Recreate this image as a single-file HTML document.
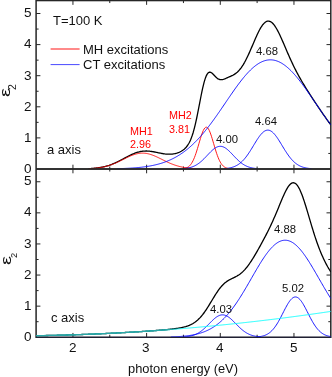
<!DOCTYPE html>
<html><head><meta charset="utf-8"><style>
html,body{margin:0;padding:0;background:#fff}
#c{position:relative;width:332px;height:377px;overflow:hidden;background:#fff;font-family:"Liberation Sans",sans-serif;font-size:13px;color:#111}
.t{position:absolute;will-change:transform;white-space:nowrap;line-height:1;transform-origin:0 0}
</style></head><body><div id="c">
<svg width="332" height="377" viewBox="0 0 332 377" style="position:absolute;left:0;top:0">
<defs><clipPath id="ct"><rect x="36.10" y="1.00" width="294.70" height="167.40"/></clipPath><clipPath id="cb"><rect x="36.10" y="169.00" width="294.70" height="167.65"/></clipPath><clipPath id="cb2"><rect x="36.10" y="169.00" width="294.70" height="169.00"/></clipPath></defs>
<g stroke="#262626" fill="none">
<rect x="36.10" y="0.55" width="294.70" height="336.70" stroke-width="1.5"/>
<line x1="36.10" x2="330.80" y1="169.00" y2="169.00" stroke-width="1.5"/>
<line x1="72.94" y1="0.55" x2="72.94" y2="4.85" stroke-width="1.0"/>
<line x1="72.94" y1="164.70" x2="72.94" y2="173.30" stroke-width="1.0"/>
<line x1="72.94" y1="332.95" x2="72.94" y2="337.25" stroke-width="1.0"/>
<line x1="109.78" y1="0.55" x2="109.78" y2="3.05" stroke-width="1.0"/>
<line x1="109.78" y1="166.50" x2="109.78" y2="171.50" stroke-width="1.0"/>
<line x1="109.78" y1="334.75" x2="109.78" y2="337.25" stroke-width="1.0"/>
<line x1="146.61" y1="0.55" x2="146.61" y2="4.85" stroke-width="1.0"/>
<line x1="146.61" y1="164.70" x2="146.61" y2="173.30" stroke-width="1.0"/>
<line x1="146.61" y1="332.95" x2="146.61" y2="337.25" stroke-width="1.0"/>
<line x1="183.45" y1="0.55" x2="183.45" y2="3.05" stroke-width="1.0"/>
<line x1="183.45" y1="166.50" x2="183.45" y2="171.50" stroke-width="1.0"/>
<line x1="183.45" y1="334.75" x2="183.45" y2="337.25" stroke-width="1.0"/>
<line x1="220.29" y1="0.55" x2="220.29" y2="4.85" stroke-width="1.0"/>
<line x1="220.29" y1="164.70" x2="220.29" y2="173.30" stroke-width="1.0"/>
<line x1="220.29" y1="332.95" x2="220.29" y2="337.25" stroke-width="1.0"/>
<line x1="257.12" y1="0.55" x2="257.12" y2="3.05" stroke-width="1.0"/>
<line x1="257.12" y1="166.50" x2="257.12" y2="171.50" stroke-width="1.0"/>
<line x1="257.12" y1="334.75" x2="257.12" y2="337.25" stroke-width="1.0"/>
<line x1="293.96" y1="0.55" x2="293.96" y2="4.85" stroke-width="1.0"/>
<line x1="293.96" y1="164.70" x2="293.96" y2="173.30" stroke-width="1.0"/>
<line x1="293.96" y1="332.95" x2="293.96" y2="337.25" stroke-width="1.0"/>
<line x1="36.10" y1="153.45" x2="38.60" y2="153.45" stroke-width="1.0"/>
<line x1="328.30" y1="153.45" x2="330.80" y2="153.45" stroke-width="1.0"/>
<line x1="36.10" y1="321.70" x2="38.60" y2="321.70" stroke-width="1.0"/>
<line x1="328.30" y1="321.70" x2="330.80" y2="321.70" stroke-width="1.0"/>
<line x1="36.10" y1="137.90" x2="40.40" y2="137.90" stroke-width="1.0"/>
<line x1="326.50" y1="137.90" x2="330.80" y2="137.90" stroke-width="1.0"/>
<line x1="36.10" y1="306.15" x2="40.40" y2="306.15" stroke-width="1.0"/>
<line x1="326.50" y1="306.15" x2="330.80" y2="306.15" stroke-width="1.0"/>
<line x1="36.10" y1="122.35" x2="38.60" y2="122.35" stroke-width="1.0"/>
<line x1="328.30" y1="122.35" x2="330.80" y2="122.35" stroke-width="1.0"/>
<line x1="36.10" y1="290.60" x2="38.60" y2="290.60" stroke-width="1.0"/>
<line x1="328.30" y1="290.60" x2="330.80" y2="290.60" stroke-width="1.0"/>
<line x1="36.10" y1="106.80" x2="40.40" y2="106.80" stroke-width="1.0"/>
<line x1="326.50" y1="106.80" x2="330.80" y2="106.80" stroke-width="1.0"/>
<line x1="36.10" y1="275.05" x2="40.40" y2="275.05" stroke-width="1.0"/>
<line x1="326.50" y1="275.05" x2="330.80" y2="275.05" stroke-width="1.0"/>
<line x1="36.10" y1="91.25" x2="38.60" y2="91.25" stroke-width="1.0"/>
<line x1="328.30" y1="91.25" x2="330.80" y2="91.25" stroke-width="1.0"/>
<line x1="36.10" y1="259.50" x2="38.60" y2="259.50" stroke-width="1.0"/>
<line x1="328.30" y1="259.50" x2="330.80" y2="259.50" stroke-width="1.0"/>
<line x1="36.10" y1="75.70" x2="40.40" y2="75.70" stroke-width="1.0"/>
<line x1="326.50" y1="75.70" x2="330.80" y2="75.70" stroke-width="1.0"/>
<line x1="36.10" y1="243.95" x2="40.40" y2="243.95" stroke-width="1.0"/>
<line x1="326.50" y1="243.95" x2="330.80" y2="243.95" stroke-width="1.0"/>
<line x1="36.10" y1="60.15" x2="38.60" y2="60.15" stroke-width="1.0"/>
<line x1="328.30" y1="60.15" x2="330.80" y2="60.15" stroke-width="1.0"/>
<line x1="36.10" y1="228.40" x2="38.60" y2="228.40" stroke-width="1.0"/>
<line x1="328.30" y1="228.40" x2="330.80" y2="228.40" stroke-width="1.0"/>
<line x1="36.10" y1="44.60" x2="40.40" y2="44.60" stroke-width="1.0"/>
<line x1="326.50" y1="44.60" x2="330.80" y2="44.60" stroke-width="1.0"/>
<line x1="36.10" y1="212.85" x2="40.40" y2="212.85" stroke-width="1.0"/>
<line x1="326.50" y1="212.85" x2="330.80" y2="212.85" stroke-width="1.0"/>
<line x1="36.10" y1="29.05" x2="38.60" y2="29.05" stroke-width="1.0"/>
<line x1="328.30" y1="29.05" x2="330.80" y2="29.05" stroke-width="1.0"/>
<line x1="36.10" y1="197.30" x2="38.60" y2="197.30" stroke-width="1.0"/>
<line x1="328.30" y1="197.30" x2="330.80" y2="197.30" stroke-width="1.0"/>
<line x1="36.10" y1="13.50" x2="40.40" y2="13.50" stroke-width="1.0"/>
<line x1="326.50" y1="13.50" x2="330.80" y2="13.50" stroke-width="1.0"/>
<line x1="36.10" y1="181.75" x2="40.40" y2="181.75" stroke-width="1.0"/>
<line x1="326.50" y1="181.75" x2="330.80" y2="181.75" stroke-width="1.0"/>
</g>
<line x1="36.10" x2="330.80" y1="337.25" y2="337.25" stroke="rgba(0,0,120,0.15)" stroke-width="1.5"/>
<g fill="none" stroke-linejoin="round" clip-path="url(#ct)">
<path d="M88.41,168.66 L89.15,168.62 L89.88,168.58 L90.62,168.54 L91.36,168.49 L92.09,168.44 L92.83,168.38 L93.57,168.32 L94.30,168.25 L95.04,168.18 L95.78,168.10 L96.51,168.02 L97.25,167.93 L97.99,167.83 L98.72,167.72 L99.46,167.61 L100.20,167.49 L100.93,167.36 L101.67,167.22 L102.41,167.08 L103.14,166.92 L103.88,166.76 L104.62,166.58 L105.35,166.40 L106.09,166.20 L106.83,166.00 L107.56,165.78 L108.30,165.55 L109.04,165.32 L109.78,165.07 L110.51,164.81 L111.25,164.54 L111.99,164.26 L112.72,163.97 L113.46,163.66 L114.20,163.35 L114.93,163.03 L115.67,162.70 L116.41,162.36 L117.14,162.01 L117.88,161.65 L118.62,161.29 L119.35,160.92 L120.09,160.54 L120.83,160.16 L121.56,159.77 L122.30,159.38 L123.04,158.98 L123.77,158.59 L124.51,158.19 L125.25,157.80 L125.98,157.41 L126.72,157.01 L127.46,156.63 L128.19,156.24 L128.93,155.87 L129.67,155.50 L130.40,155.14 L131.14,154.79 L131.88,154.45 L132.61,154.12 L133.35,153.80 L134.09,153.50 L134.82,153.21 L135.56,152.94 L136.30,152.68 L137.03,152.44 L137.77,152.22 L138.51,152.01 L139.25,151.83 L139.98,151.66 L140.72,151.51 L141.46,151.38 L142.19,151.27 L142.93,151.19 L143.67,151.12 L144.40,151.06 L145.14,151.03 L145.88,151.02 L146.61,151.02 L147.35,151.05 L148.09,151.08 L148.82,151.14 L149.56,151.21 L150.30,151.29 L151.03,151.39 L151.77,151.49 L152.51,151.61 L153.24,151.74 L153.98,151.87 L154.72,152.01 L155.45,152.16 L156.19,152.31 L156.93,152.47 L157.66,152.62 L158.40,152.78 L159.14,152.93 L159.87,153.08 L160.61,153.23 L161.35,153.37 L162.08,153.50 L162.82,153.63 L163.56,153.75 L164.29,153.85 L165.03,153.95 L165.77,154.03 L166.50,154.10 L167.24,154.15 L167.98,154.19 L168.71,154.21 L169.45,154.21 L170.19,154.20 L170.93,154.17 L171.66,154.11 L172.40,154.04 L173.14,153.94 L173.87,153.83 L174.61,153.69 L175.35,153.53 L176.08,153.34 L176.82,153.13 L177.56,152.89 L178.29,152.62 L179.03,152.33 L179.77,152.00 L180.50,151.64 L181.24,151.25 L181.98,150.81 L182.71,150.32 L183.45,149.78 L184.19,149.19 L184.92,148.52 L185.66,147.78 L186.40,146.95 L187.13,146.01 L187.87,144.96 L188.61,143.77 L189.34,142.44 L190.08,140.94 L190.82,139.25 L191.55,137.37 L192.29,135.28 L193.03,132.96 L193.76,130.42 L194.50,127.64 L195.24,124.64 L195.97,121.42 L196.71,118.01 L197.45,114.42 L198.19,110.71 L198.92,106.91 L199.66,103.07 L200.40,99.25 L201.13,95.50 L201.87,91.89 L202.61,88.47 L203.34,85.29 L204.08,82.41 L204.82,79.86 L205.55,77.66 L206.29,75.84 L207.03,74.40 L207.76,73.33 L208.50,72.61 L209.24,72.23 L209.97,72.15 L210.71,72.32 L211.45,72.71 L212.18,73.27 L212.92,73.95 L213.66,74.72 L214.39,75.51 L215.13,76.31 L215.87,77.06 L216.60,77.75 L217.34,78.35 L218.08,78.84 L218.81,79.23 L219.55,79.50 L220.29,79.65 L221.02,79.70 L221.76,79.66 L222.50,79.54 L223.23,79.36 L223.97,79.12 L224.71,78.85 L225.44,78.55 L226.18,78.24 L226.92,77.92 L227.65,77.59 L228.39,77.27 L229.13,76.95 L229.87,76.62 L230.60,76.30 L231.34,75.96 L232.08,75.60 L232.81,75.23 L233.55,74.82 L234.29,74.39 L235.02,73.91 L235.76,73.38 L236.50,72.81 L237.23,72.18 L237.97,71.49 L238.71,70.73 L239.44,69.91 L240.18,69.03 L240.92,68.08 L241.65,67.05 L242.39,65.97 L243.13,64.81 L243.86,63.58 L244.60,62.30 L245.34,60.94 L246.07,59.53 L246.81,58.06 L247.55,56.54 L248.28,54.98 L249.02,53.37 L249.76,51.72 L250.49,50.04 L251.23,48.34 L251.97,46.62 L252.70,44.89 L253.44,43.16 L254.18,41.44 L254.91,39.73 L255.65,38.05 L256.39,36.40 L257.12,34.79 L257.86,33.23 L258.60,31.74 L259.34,30.31 L260.07,28.95 L260.81,27.69 L261.55,26.51 L262.28,25.44 L263.02,24.47 L263.76,23.62 L264.49,22.88 L265.23,22.26 L265.97,21.77 L266.70,21.41 L267.44,21.18 L268.18,21.09 L268.91,21.12 L269.65,21.29 L270.39,21.59 L271.12,22.01 L271.86,22.56 L272.60,23.23 L273.33,24.02 L274.07,24.92 L274.81,25.92 L275.54,27.03 L276.28,28.22 L277.02,29.50 L277.75,30.86 L278.49,32.28 L279.23,33.77 L279.96,35.31 L280.70,36.90 L281.44,38.53 L282.17,40.20 L282.91,41.88 L283.65,43.59 L284.38,45.30 L285.12,47.03 L285.86,48.75 L286.60,50.47 L287.33,52.18 L288.07,53.88 L288.81,55.57 L289.54,57.23 L290.28,58.87 L291.02,60.49 L291.75,62.09 L292.49,63.65 L293.23,65.20 L293.96,66.71 L294.70,68.20 L295.44,69.66 L296.17,71.09 L296.91,72.50 L297.65,73.88 L298.38,75.24 L299.12,76.58 L299.86,77.89 L300.59,79.19 L301.33,80.46 L302.07,81.72 L302.80,82.96 L303.54,84.19 L304.28,85.40 L305.01,86.61 L305.75,87.80 L306.49,88.98 L307.22,90.15 L307.96,91.32 L308.70,92.47 L309.43,93.62 L310.17,94.77 L310.91,95.91 L311.64,97.04 L312.38,98.17 L313.12,99.29 L313.85,100.42 L314.59,101.53 L315.33,102.64 L316.07,103.75 L316.80,104.86 L317.54,105.96 L318.28,107.05 L319.01,108.15 L319.75,109.23 L320.49,110.32 L321.22,111.39 L321.96,112.46 L322.70,113.53 L323.43,114.59 L324.17,115.64 L324.91,116.69 L325.64,117.73 L326.38,118.76 L327.12,119.78 L327.85,120.80 L328.59,121.80 L329.33,122.80 L330.06,123.79 L330.80,124.77" stroke="#000" stroke-width="1.3"/>
<path d="M89.15,168.66 L89.88,168.62 L90.62,168.58 L91.36,168.53 L92.09,168.48 L92.83,168.43 L93.57,168.37 L94.30,168.30 L95.04,168.23 L95.78,168.16 L96.51,168.08 L97.25,167.99 L97.99,167.90 L98.72,167.80 L99.46,167.69 L100.20,167.57 L100.93,167.45 L101.67,167.32 L102.41,167.18 L103.14,167.03 L103.88,166.87 L104.62,166.70 L105.35,166.52 L106.09,166.34 L106.83,166.14 L107.56,165.93 L108.30,165.72 L109.04,165.49 L109.78,165.25 L110.51,165.00 L111.25,164.74 L111.99,164.48 L112.72,164.20 L113.46,163.91 L114.20,163.61 L114.93,163.31 L115.67,162.99 L116.41,162.67 L117.14,162.33 L117.88,162.00 L118.62,161.65 L119.35,161.30 L120.09,160.95 L120.83,160.59 L121.56,160.22 L122.30,159.86 L123.04,159.49 L123.77,159.12 L124.51,158.76 L125.25,158.39 L125.98,158.03 L126.72,157.67 L127.46,157.32 L128.19,156.98 L128.93,156.64 L129.67,156.31 L130.40,155.99 L131.14,155.69 L131.88,155.39 L132.61,155.11 L133.35,154.85 L134.09,154.60 L134.82,154.36 L135.56,154.15 L136.30,153.95 L137.03,153.78 L137.77,153.62 L138.51,153.48 L139.25,153.37 L139.98,153.28 L140.72,153.21 L141.46,153.16 L142.19,153.14 L142.93,153.14 L143.67,153.16 L144.40,153.21 L145.14,153.28 L145.88,153.37 L146.61,153.48 L147.35,153.62 L148.09,153.78 L148.82,153.95 L149.56,154.15 L150.30,154.36 L151.03,154.60 L151.77,154.85 L152.51,155.11 L153.24,155.39 L153.98,155.69 L154.72,155.99 L155.45,156.31 L156.19,156.64 L156.93,156.98 L157.66,157.32 L158.40,157.67 L159.14,158.03 L159.87,158.39 L160.61,158.76 L161.35,159.12 L162.08,159.49 L162.82,159.86 L163.56,160.22 L164.29,160.59 L165.03,160.95 L165.77,161.30 L166.50,161.65 L167.24,162.00 L167.98,162.33 L168.71,162.67 L169.45,162.99 L170.19,163.31 L170.93,163.61 L171.66,163.91 L172.40,164.20 L173.14,164.48 L173.87,164.74 L174.61,165.00 L175.35,165.25 L176.08,165.49 L176.82,165.72 L177.56,165.93 L178.29,166.14 L179.03,166.34 L179.77,166.52 L180.50,166.70 L181.24,166.87 L181.98,167.03 L182.71,167.18 L183.45,167.32 L184.19,167.45 L184.92,167.57 L185.66,167.69 L186.40,167.80 L187.13,167.90 L187.87,167.99 L188.61,168.08 L189.34,168.16 L190.08,168.23 L190.82,168.30 L191.55,168.37 L192.29,168.43 L193.03,168.48 L193.76,168.53 L194.50,168.58 L195.24,168.62 L195.97,168.66" stroke="#ff0000" stroke-width="0.9"/>
<path d="M183.45,168.66 L184.19,168.54 L184.92,168.38 L185.66,168.17 L186.40,167.91 L187.13,167.58 L187.87,167.16 L188.61,166.65 L189.34,166.03 L190.08,165.28 L190.82,164.39 L191.55,163.34 L192.29,162.12 L193.03,160.72 L193.76,159.14 L194.50,157.37 L195.24,155.42 L195.97,153.30 L196.71,151.03 L197.45,148.64 L198.19,146.16 L198.92,143.63 L199.66,141.10 L200.40,138.63 L201.13,136.26 L201.87,134.06 L202.61,132.09 L203.34,130.39 L204.08,129.01 L204.82,128.00 L205.55,127.38 L206.29,127.17 L207.03,127.38 L207.76,128.00 L208.50,129.01 L209.24,130.39 L209.97,132.09 L210.71,134.06 L211.45,136.26 L212.18,138.63 L212.92,141.10 L213.66,143.63 L214.39,146.16 L215.13,148.64 L215.87,151.03 L216.60,153.30 L217.34,155.42 L218.08,157.37 L218.81,159.14 L219.55,160.72 L220.29,162.12 L221.02,163.34 L221.76,164.39 L222.50,165.28 L223.23,166.03 L223.97,166.65 L224.71,167.16 L225.44,167.58 L226.18,167.91 L226.92,168.17 L227.65,168.38 L228.39,168.54 L229.13,168.66" stroke="#ff0000" stroke-width="0.9"/>
<path d="M182.71,168.68 L183.45,168.62 L184.19,168.55 L184.92,168.47 L185.66,168.38 L186.40,168.28 L187.13,168.17 L187.87,168.04 L188.61,167.89 L189.34,167.73 L190.08,167.54 L190.82,167.33 L191.55,167.10 L192.29,166.85 L193.03,166.57 L193.76,166.26 L194.50,165.93 L195.24,165.56 L195.97,165.16 L196.71,164.73 L197.45,164.27 L198.19,163.78 L198.92,163.25 L199.66,162.69 L200.40,162.09 L201.13,161.47 L201.87,160.82 L202.61,160.14 L203.34,159.43 L204.08,158.70 L204.82,157.95 L205.55,157.18 L206.29,156.41 L207.03,155.62 L207.76,154.84 L208.50,154.05 L209.24,153.28 L209.97,152.51 L210.71,151.77 L211.45,151.05 L212.18,150.37 L212.92,149.72 L213.66,149.11 L214.39,148.55 L215.13,148.04 L215.87,147.59 L216.60,147.20 L217.34,146.88 L218.08,146.63 L218.81,146.44 L219.55,146.33 L220.29,146.30 L221.02,146.33 L221.76,146.44 L222.50,146.63 L223.23,146.88 L223.97,147.20 L224.71,147.59 L225.44,148.04 L226.18,148.55 L226.92,149.11 L227.65,149.72 L228.39,150.37 L229.13,151.05 L229.87,151.77 L230.60,152.51 L231.34,153.28 L232.08,154.05 L232.81,154.84 L233.55,155.62 L234.29,156.41 L235.02,157.18 L235.76,157.95 L236.50,158.70 L237.23,159.43 L237.97,160.14 L238.71,160.82 L239.44,161.47 L240.18,162.09 L240.92,162.69 L241.65,163.25 L242.39,163.78 L243.13,164.27 L243.86,164.73 L244.60,165.16 L245.34,165.56 L246.07,165.93 L246.81,166.26 L247.55,166.57 L248.28,166.85 L249.02,167.10 L249.76,167.33 L250.49,167.54 L251.23,167.73 L251.97,167.89 L252.70,168.04 L253.44,168.17 L254.18,168.28 L254.91,168.38 L255.65,168.47 L256.39,168.55 L257.12,168.62 L257.86,168.68" stroke="#0000ff" stroke-width="0.9"/>
<path d="M223.97,168.66 L224.71,168.61 L225.44,168.54 L226.18,168.46 L226.92,168.38 L227.65,168.28 L228.39,168.17 L229.13,168.04 L229.87,167.89 L230.60,167.73 L231.34,167.55 L232.08,167.35 L232.81,167.12 L233.55,166.87 L234.29,166.59 L235.02,166.28 L235.76,165.93 L236.50,165.56 L237.23,165.15 L237.97,164.70 L238.71,164.21 L239.44,163.68 L240.18,163.11 L240.92,162.50 L241.65,161.84 L242.39,161.13 L243.13,160.38 L243.86,159.58 L244.60,158.74 L245.34,157.85 L246.07,156.91 L246.81,155.93 L247.55,154.91 L248.28,153.85 L249.02,152.76 L249.76,151.63 L250.49,150.48 L251.23,149.30 L251.97,148.10 L252.70,146.89 L253.44,145.67 L254.18,144.44 L254.91,143.23 L255.65,142.03 L256.39,140.84 L257.12,139.68 L257.86,138.56 L258.60,137.48 L259.34,136.45 L260.07,135.47 L260.81,134.56 L261.55,133.72 L262.28,132.95 L263.02,132.27 L263.76,131.67 L264.49,131.17 L265.23,130.76 L265.97,130.45 L266.70,130.24 L267.44,130.14 L268.18,130.14 L268.91,130.24 L269.65,130.45 L270.39,130.76 L271.12,131.17 L271.86,131.67 L272.60,132.27 L273.33,132.95 L274.07,133.72 L274.81,134.56 L275.54,135.47 L276.28,136.45 L277.02,137.48 L277.75,138.56 L278.49,139.68 L279.23,140.84 L279.96,142.03 L280.70,143.23 L281.44,144.44 L282.17,145.67 L282.91,146.89 L283.65,148.10 L284.38,149.30 L285.12,150.48 L285.86,151.63 L286.60,152.76 L287.33,153.85 L288.07,154.91 L288.81,155.93 L289.54,156.91 L290.28,157.85 L291.02,158.74 L291.75,159.58 L292.49,160.38 L293.23,161.13 L293.96,161.84 L294.70,162.50 L295.44,163.11 L296.17,163.68 L296.91,164.21 L297.65,164.70 L298.38,165.15 L299.12,165.56 L299.86,165.93 L300.59,166.28 L301.33,166.59 L302.07,166.87 L302.80,167.12 L303.54,167.35 L304.28,167.55 L305.01,167.73 L305.75,167.89 L306.49,168.04 L307.22,168.17 L307.96,168.28 L308.70,168.38 L309.43,168.46 L310.17,168.54 L310.91,168.61 L311.64,168.66" stroke="#0000ff" stroke-width="0.9"/>
<path d="M117.14,168.67 L117.88,168.66 L118.62,168.64 L119.35,168.61 L120.09,168.59 L120.83,168.57 L121.56,168.55 L122.30,168.52 L123.04,168.49 L123.77,168.47 L124.51,168.44 L125.25,168.41 L125.98,168.37 L126.72,168.34 L127.46,168.31 L128.19,168.27 L128.93,168.23 L129.67,168.19 L130.40,168.15 L131.14,168.10 L131.88,168.05 L132.61,168.01 L133.35,167.95 L134.09,167.90 L134.82,167.85 L135.56,167.79 L136.30,167.73 L137.03,167.66 L137.77,167.60 L138.51,167.53 L139.25,167.45 L139.98,167.38 L140.72,167.30 L141.46,167.22 L142.19,167.13 L142.93,167.04 L143.67,166.95 L144.40,166.85 L145.14,166.75 L145.88,166.65 L146.61,166.54 L147.35,166.43 L148.09,166.31 L148.82,166.19 L149.56,166.06 L150.30,165.93 L151.03,165.79 L151.77,165.65 L152.51,165.50 L153.24,165.35 L153.98,165.19 L154.72,165.02 L155.45,164.85 L156.19,164.67 L156.93,164.49 L157.66,164.30 L158.40,164.10 L159.14,163.90 L159.87,163.69 L160.61,163.47 L161.35,163.25 L162.08,163.02 L162.82,162.78 L163.56,162.53 L164.29,162.27 L165.03,162.01 L165.77,161.73 L166.50,161.45 L167.24,161.16 L167.98,160.86 L168.71,160.55 L169.45,160.23 L170.19,159.91 L170.93,159.57 L171.66,159.22 L172.40,158.87 L173.14,158.50 L173.87,158.12 L174.61,157.73 L175.35,157.33 L176.08,156.92 L176.82,156.50 L177.56,156.07 L178.29,155.63 L179.03,155.17 L179.77,154.71 L180.50,154.23 L181.24,153.74 L181.98,153.23 L182.71,152.72 L183.45,152.19 L184.19,151.65 L184.92,151.10 L185.66,150.54 L186.40,149.96 L187.13,149.37 L187.87,148.77 L188.61,148.15 L189.34,147.52 L190.08,146.88 L190.82,146.23 L191.55,145.56 L192.29,144.88 L193.03,144.19 L193.76,143.48 L194.50,142.76 L195.24,142.03 L195.97,141.28 L196.71,140.52 L197.45,139.75 L198.19,138.97 L198.92,138.17 L199.66,137.36 L200.40,136.54 L201.13,135.70 L201.87,134.85 L202.61,133.99 L203.34,133.12 L204.08,132.24 L204.82,131.35 L205.55,130.44 L206.29,129.52 L207.03,128.59 L207.76,127.65 L208.50,126.70 L209.24,125.74 L209.97,124.77 L210.71,123.80 L211.45,122.81 L212.18,121.81 L212.92,120.80 L213.66,119.79 L214.39,118.77 L215.13,117.74 L215.87,116.70 L216.60,115.66 L217.34,114.61 L218.08,113.55 L218.81,112.49 L219.55,111.43 L220.29,110.36 L221.02,109.28 L221.76,108.21 L222.50,107.13 L223.23,106.04 L223.97,104.96 L224.71,103.88 L225.44,102.79 L226.18,101.71 L226.92,100.62 L227.65,99.54 L228.39,98.46 L229.13,97.38 L229.87,96.30 L230.60,95.23 L231.34,94.16 L232.08,93.10 L232.81,92.04 L233.55,90.99 L234.29,89.94 L235.02,88.90 L235.76,87.87 L236.50,86.85 L237.23,85.84 L237.97,84.84 L238.71,83.85 L239.44,82.88 L240.18,81.91 L240.92,80.96 L241.65,80.02 L242.39,79.09 L243.13,78.18 L243.86,77.29 L244.60,76.41 L245.34,75.54 L246.07,74.70 L246.81,73.87 L247.55,73.06 L248.28,72.27 L249.02,71.50 L249.76,70.75 L250.49,70.03 L251.23,69.32 L251.97,68.63 L252.70,67.97 L253.44,67.33 L254.18,66.71 L254.91,66.12 L255.65,65.55 L256.39,65.01 L257.12,64.49 L257.86,64.00 L258.60,63.53 L259.34,63.09 L260.07,62.68 L260.81,62.29 L261.55,61.93 L262.28,61.60 L263.02,61.30 L263.76,61.02 L264.49,60.77 L265.23,60.56 L265.97,60.37 L266.70,60.21 L267.44,60.07 L268.18,59.97 L268.91,59.90 L269.65,59.85 L270.39,59.84 L271.12,59.85 L271.86,59.90 L272.60,59.97 L273.33,60.07 L274.07,60.21 L274.81,60.37 L275.54,60.56 L276.28,60.77 L277.02,61.02 L277.75,61.30 L278.49,61.60 L279.23,61.93 L279.96,62.29 L280.70,62.68 L281.44,63.09 L282.17,63.53 L282.91,64.00 L283.65,64.49 L284.38,65.01 L285.12,65.55 L285.86,66.12 L286.60,66.71 L287.33,67.33 L288.07,67.97 L288.81,68.63 L289.54,69.32 L290.28,70.03 L291.02,70.75 L291.75,71.50 L292.49,72.27 L293.23,73.06 L293.96,73.87 L294.70,74.70 L295.44,75.54 L296.17,76.41 L296.91,77.29 L297.65,78.18 L298.38,79.09 L299.12,80.02 L299.86,80.96 L300.59,81.91 L301.33,82.88 L302.07,83.85 L302.80,84.84 L303.54,85.84 L304.28,86.85 L305.01,87.87 L305.75,88.90 L306.49,89.94 L307.22,90.99 L307.96,92.04 L308.70,93.10 L309.43,94.16 L310.17,95.23 L310.91,96.30 L311.64,97.38 L312.38,98.46 L313.12,99.54 L313.85,100.62 L314.59,101.71 L315.33,102.79 L316.07,103.88 L316.80,104.96 L317.54,106.04 L318.28,107.13 L319.01,108.21 L319.75,109.28 L320.49,110.36 L321.22,111.43 L321.96,112.49 L322.70,113.55 L323.43,114.61 L324.17,115.66 L324.91,116.70 L325.64,117.74 L326.38,118.77 L327.12,119.79 L327.85,120.80 L328.59,121.81 L329.33,122.81 L330.06,123.80 L330.80,124.77" stroke="#0000ff" stroke-width="0.9"/>
</g>
<line x1="36.10" x2="330.80" y1="169.00" y2="169.00" stroke="#262626" stroke-width="1.5"/>
<g fill="none" stroke-linejoin="round" clip-path="url(#cb2)">
<path d="M36.10,335.69 L36.84,335.68 L37.57,335.67 L38.31,335.66 L39.05,335.65 L39.78,335.64 L40.52,335.62 L41.26,335.61 L41.99,335.60 L42.73,335.58 L43.47,335.57 L44.20,335.56 L44.94,335.54 L45.68,335.53 L46.41,335.51 L47.15,335.50 L47.89,335.48 L48.62,335.47 L49.36,335.45 L50.10,335.44 L50.83,335.42 L51.57,335.40 L52.31,335.39 L53.05,335.37 L53.78,335.35 L54.52,335.33 L55.26,335.32 L55.99,335.30 L56.73,335.28 L57.47,335.26 L58.20,335.24 L58.94,335.23 L59.68,335.21 L60.41,335.19 L61.15,335.17 L61.89,335.15 L62.62,335.13 L63.36,335.11 L64.10,335.09 L64.83,335.07 L65.57,335.04 L66.31,335.02 L67.04,335.00 L67.78,334.98 L68.52,334.96 L69.25,334.94 L69.99,334.91 L70.73,334.89 L71.46,334.87 L72.20,334.84 L72.94,334.82 L73.67,334.80 L74.41,334.77 L75.15,334.75 L75.88,334.72 L76.62,334.70 L77.36,334.67 L78.09,334.65 L78.83,334.62 L79.57,334.60 L80.31,334.57 L81.04,334.55 L81.78,334.52 L82.52,334.49 L83.25,334.46 L83.99,334.44 L84.73,334.41 L85.46,334.38 L86.20,334.35 L86.94,334.33 L87.67,334.30 L88.41,334.27 L89.15,334.24 L89.88,334.21 L90.62,334.18 L91.36,334.15 L92.09,334.12 L92.83,334.09 L93.57,334.06 L94.30,334.03 L95.04,334.00 L95.78,333.97 L96.51,333.94 L97.25,333.90 L97.99,333.87 L98.72,333.84 L99.46,333.81 L100.20,333.78 L100.93,333.74 L101.67,333.71 L102.41,333.68 L103.14,333.64 L103.88,333.61 L104.62,333.57 L105.35,333.54 L106.09,333.51 L106.83,333.47 L107.56,333.44 L108.30,333.40 L109.04,333.36 L109.78,333.33 L110.51,333.29 L111.25,333.26 L111.99,333.22 L112.72,333.18 L113.46,333.14 L114.20,333.11 L114.93,333.07 L115.67,333.03 L116.41,332.99 L117.14,332.96 L117.88,332.92 L118.62,332.88 L119.35,332.84 L120.09,332.80 L120.83,332.76 L121.56,332.72 L122.30,332.68 L123.04,332.64 L123.77,332.60 L124.51,332.56 L125.25,332.52 L125.98,332.47 L126.72,332.43 L127.46,332.39 L128.19,332.35 L128.93,332.31 L129.67,332.26 L130.40,332.22 L131.14,332.18 L131.88,332.13 L132.61,332.09 L133.35,332.05 L134.09,332.00 L134.82,331.96 L135.56,331.91 L136.30,331.87 L137.03,331.82 L137.77,331.77 L138.51,331.73 L139.25,331.68 L139.98,331.63 L140.72,331.59 L141.46,331.54 L142.19,331.49 L142.93,331.44 L143.67,331.40 L144.40,331.35 L145.14,331.30 L145.88,331.25 L146.61,331.20 L147.35,331.15 L148.09,331.10 L148.82,331.04 L149.56,330.99 L150.30,330.94 L151.03,330.89 L151.77,330.83 L152.51,330.78 L153.24,330.73 L153.98,330.67 L154.72,330.62 L155.45,330.56 L156.19,330.50 L156.93,330.45 L157.66,330.39 L158.40,330.33 L159.14,330.27 L159.87,330.21 L160.61,330.15 L161.35,330.09 L162.08,330.02 L162.82,329.96 L163.56,329.89 L164.29,329.83 L165.03,329.76 L165.77,329.69 L166.50,329.62 L167.24,329.55 L167.98,329.47 L168.71,329.40 L169.45,329.32 L170.19,329.24 L170.93,329.16 L171.66,329.08 L172.40,328.99 L173.14,328.90 L173.87,328.81 L174.61,328.72 L175.35,328.62 L176.08,328.51 L176.82,328.41 L177.56,328.30 L178.29,328.18 L179.03,328.06 L179.77,327.93 L180.50,327.79 L181.24,327.65 L181.98,327.50 L182.71,327.33 L183.45,327.16 L184.19,326.98 L184.92,326.78 L185.66,326.58 L186.40,326.35 L187.13,326.11 L187.87,325.86 L188.61,325.58 L189.34,325.29 L190.08,324.97 L190.82,324.63 L191.55,324.26 L192.29,323.87 L193.03,323.45 L193.76,322.99 L194.50,322.51 L195.24,321.99 L195.97,321.43 L196.71,320.84 L197.45,320.21 L198.19,319.55 L198.92,318.84 L199.66,318.09 L200.40,317.30 L201.13,316.47 L201.87,315.59 L202.61,314.68 L203.34,313.73 L204.08,312.74 L204.82,311.71 L205.55,310.64 L206.29,309.55 L207.03,308.42 L207.76,307.27 L208.50,306.09 L209.24,304.90 L209.97,303.69 L210.71,302.46 L211.45,301.24 L212.18,300.01 L212.92,298.78 L213.66,297.56 L214.39,296.36 L215.13,295.17 L215.87,294.01 L216.60,292.88 L217.34,291.77 L218.08,290.71 L218.81,289.68 L219.55,288.69 L220.29,287.75 L221.02,286.85 L221.76,286.00 L222.50,285.20 L223.23,284.45 L223.97,283.74 L224.71,283.09 L225.44,282.47 L226.18,281.91 L226.92,281.38 L227.65,280.89 L228.39,280.43 L229.13,280.00 L229.87,279.60 L230.60,279.22 L231.34,278.85 L232.08,278.49 L232.81,278.14 L233.55,277.79 L234.29,277.44 L235.02,277.07 L235.76,276.70 L236.50,276.30 L237.23,275.88 L237.97,275.43 L238.71,274.96 L239.44,274.45 L240.18,273.91 L240.92,273.33 L241.65,272.71 L242.39,272.05 L243.13,271.35 L243.86,270.61 L244.60,269.83 L245.34,269.01 L246.07,268.14 L246.81,267.24 L247.55,266.29 L248.28,265.31 L249.02,264.30 L249.76,263.25 L250.49,262.17 L251.23,261.06 L251.97,259.92 L252.70,258.75 L253.44,257.57 L254.18,256.36 L254.91,255.13 L255.65,253.88 L256.39,252.61 L257.12,251.34 L257.86,250.04 L258.60,248.74 L259.34,247.42 L260.07,246.10 L260.81,244.76 L261.55,243.41 L262.28,242.05 L263.02,240.68 L263.76,239.30 L264.49,237.91 L265.23,236.50 L265.97,235.08 L266.70,233.64 L267.44,232.19 L268.18,230.72 L268.91,229.22 L269.65,227.71 L270.39,226.17 L271.12,224.61 L271.86,223.02 L272.60,221.40 L273.33,219.76 L274.07,218.10 L274.81,216.40 L275.54,214.69 L276.28,212.95 L277.02,211.19 L277.75,209.42 L278.49,207.64 L279.23,205.85 L279.96,204.06 L280.70,202.28 L281.44,200.51 L282.17,198.77 L282.91,197.07 L283.65,195.40 L284.38,193.79 L285.12,192.25 L285.86,190.78 L286.60,189.40 L287.33,188.12 L288.07,186.96 L288.81,185.91 L289.54,185.00 L290.28,184.23 L291.02,183.62 L291.75,183.16 L292.49,182.88 L293.23,182.76 L293.96,182.83 L294.70,183.08 L295.44,183.50 L296.17,184.11 L296.91,184.91 L297.65,185.88 L298.38,187.02 L299.12,188.33 L299.86,189.80 L300.59,191.41 L301.33,193.17 L302.07,195.06 L302.80,197.07 L303.54,199.19 L304.28,201.39 L305.01,203.68 L305.75,206.04 L306.49,208.45 L307.22,210.90 L307.96,213.38 L308.70,215.88 L309.43,218.39 L310.17,220.89 L310.91,223.38 L311.64,225.85 L312.38,228.28 L313.12,230.68 L313.85,233.03 L314.59,235.34 L315.33,237.59 L316.07,239.79 L316.80,241.93 L317.54,244.01 L318.28,246.02 L319.01,247.98 L319.75,249.87 L320.49,251.70 L321.22,253.47 L321.96,255.19 L322.70,256.84 L323.43,258.45 L324.17,260.00 L324.91,261.49 L325.64,262.94 L326.38,264.35 L327.12,265.71 L327.85,267.03 L328.59,268.30 L329.33,269.54 L330.06,270.75 L330.80,271.92" stroke="#000" stroke-width="1.3"/>
</g>
<g fill="none" stroke-linejoin="round" clip-path="url(#cb)">
<path d="M184.19,336.90 L184.92,336.85 L185.66,336.78 L186.40,336.70 L187.13,336.61 L187.87,336.51 L188.61,336.40 L189.34,336.27 L190.08,336.12 L190.82,335.96 L191.55,335.78 L192.29,335.58 L193.03,335.35 L193.76,335.11 L194.50,334.84 L195.24,334.54 L195.97,334.22 L196.71,333.87 L197.45,333.49 L198.19,333.08 L198.92,332.64 L199.66,332.17 L200.40,331.67 L201.13,331.13 L201.87,330.57 L202.61,329.98 L203.34,329.36 L204.08,328.71 L204.82,328.04 L205.55,327.35 L206.29,326.64 L207.03,325.91 L207.76,325.17 L208.50,324.42 L209.24,323.67 L209.97,322.91 L210.71,322.17 L211.45,321.43 L212.18,320.70 L212.92,320.00 L213.66,319.32 L214.39,318.67 L215.13,318.06 L215.87,317.49 L216.60,316.96 L217.34,316.49 L218.08,316.07 L218.81,315.71 L219.55,315.40 L220.29,315.17 L221.02,315.00 L221.76,314.89 L222.50,314.86 L223.23,314.89 L223.97,315.00 L224.71,315.17 L225.44,315.40 L226.18,315.71 L226.92,316.07 L227.65,316.49 L228.39,316.96 L229.13,317.49 L229.87,318.06 L230.60,318.67 L231.34,319.32 L232.08,320.00 L232.81,320.70 L233.55,321.43 L234.29,322.17 L235.02,322.91 L235.76,323.67 L236.50,324.42 L237.23,325.17 L237.97,325.91 L238.71,326.64 L239.44,327.35 L240.18,328.04 L240.92,328.71 L241.65,329.36 L242.39,329.98 L243.13,330.57 L243.86,331.13 L244.60,331.67 L245.34,332.17 L246.07,332.64 L246.81,333.08 L247.55,333.49 L248.28,333.87 L249.02,334.22 L249.76,334.54 L250.49,334.84 L251.23,335.11 L251.97,335.35 L252.70,335.58 L253.44,335.78 L254.18,335.96 L254.91,336.12 L255.65,336.27 L256.39,336.40 L257.12,336.51 L257.86,336.61 L258.60,336.70 L259.34,336.78 L260.07,336.85 L260.81,336.90" stroke="#0000ff" stroke-width="0.9"/>
<path d="M170.93,336.93 L171.66,336.91 L172.40,336.88 L173.14,336.86 L173.87,336.83 L174.61,336.80 L175.35,336.76 L176.08,336.73 L176.82,336.69 L177.56,336.65 L178.29,336.60 L179.03,336.56 L179.77,336.51 L180.50,336.46 L181.24,336.40 L181.98,336.34 L182.71,336.28 L183.45,336.21 L184.19,336.14 L184.92,336.07 L185.66,335.99 L186.40,335.91 L187.13,335.82 L187.87,335.73 L188.61,335.63 L189.34,335.52 L190.08,335.41 L190.82,335.30 L191.55,335.17 L192.29,335.04 L193.03,334.91 L193.76,334.77 L194.50,334.62 L195.24,334.46 L195.97,334.29 L196.71,334.12 L197.45,333.93 L198.19,333.74 L198.92,333.54 L199.66,333.32 L200.40,333.10 L201.13,332.87 L201.87,332.63 L202.61,332.37 L203.34,332.10 L204.08,331.83 L204.82,331.54 L205.55,331.23 L206.29,330.92 L207.03,330.59 L207.76,330.24 L208.50,329.88 L209.24,329.51 L209.97,329.12 L210.71,328.72 L211.45,328.30 L212.18,327.87 L212.92,327.42 L213.66,326.95 L214.39,326.46 L215.13,325.96 L215.87,325.44 L216.60,324.90 L217.34,324.35 L218.08,323.77 L218.81,323.18 L219.55,322.56 L220.29,321.93 L221.02,321.28 L221.76,320.61 L222.50,319.91 L223.23,319.20 L223.97,318.47 L224.71,317.71 L225.44,316.94 L226.18,316.14 L226.92,315.33 L227.65,314.49 L228.39,313.64 L229.13,312.76 L229.87,311.86 L230.60,310.94 L231.34,310.01 L232.08,309.05 L232.81,308.07 L233.55,307.07 L234.29,306.06 L235.02,305.02 L235.76,303.97 L236.50,302.90 L237.23,301.81 L237.97,300.70 L238.71,299.58 L239.44,298.44 L240.18,297.28 L240.92,296.11 L241.65,294.93 L242.39,293.73 L243.13,292.52 L243.86,291.30 L244.60,290.07 L245.34,288.83 L246.07,287.58 L246.81,286.32 L247.55,285.05 L248.28,283.78 L249.02,282.50 L249.76,281.22 L250.49,279.94 L251.23,278.65 L251.97,277.37 L252.70,276.09 L253.44,274.80 L254.18,273.53 L254.91,272.25 L255.65,270.99 L256.39,269.73 L257.12,268.47 L257.86,267.23 L258.60,266.01 L259.34,264.79 L260.07,263.59 L260.81,262.40 L261.55,261.23 L262.28,260.08 L263.02,258.95 L263.76,257.84 L264.49,256.76 L265.23,255.70 L265.97,254.66 L266.70,253.65 L267.44,252.67 L268.18,251.71 L268.91,250.79 L269.65,249.90 L270.39,249.04 L271.12,248.22 L271.86,247.43 L272.60,246.68 L273.33,245.96 L274.07,245.28 L274.81,244.65 L275.54,244.05 L276.28,243.49 L277.02,242.98 L277.75,242.50 L278.49,242.07 L279.23,241.69 L279.96,241.34 L280.70,241.05 L281.44,240.79 L282.17,240.59 L282.91,240.43 L283.65,240.31 L284.38,240.24 L285.12,240.22 L285.86,240.24 L286.60,240.31 L287.33,240.43 L288.07,240.59 L288.81,240.79 L289.54,241.05 L290.28,241.34 L291.02,241.69 L291.75,242.07 L292.49,242.50 L293.23,242.98 L293.96,243.49 L294.70,244.05 L295.44,244.65 L296.17,245.28 L296.91,245.96 L297.65,246.68 L298.38,247.43 L299.12,248.22 L299.86,249.04 L300.59,249.90 L301.33,250.79 L302.07,251.71 L302.80,252.67 L303.54,253.65 L304.28,254.66 L305.01,255.70 L305.75,256.76 L306.49,257.84 L307.22,258.95 L307.96,260.08 L308.70,261.23 L309.43,262.40 L310.17,263.59 L310.91,264.79 L311.64,266.01 L312.38,267.23 L313.12,268.47 L313.85,269.73 L314.59,270.99 L315.33,272.25 L316.07,273.53 L316.80,274.80 L317.54,276.09 L318.28,277.37 L319.01,278.65 L319.75,279.94 L320.49,281.22 L321.22,282.50 L321.96,283.78 L322.70,285.05 L323.43,286.32 L324.17,287.58 L324.91,288.83 L325.64,290.07 L326.38,291.30 L327.12,292.52 L327.85,293.73 L328.59,294.93 L329.33,296.11 L330.06,297.28 L330.80,298.44" stroke="#0000ff" stroke-width="0.9"/>
<path d="M257.12,336.92 L257.86,336.85 L258.60,336.77 L259.34,336.68 L260.07,336.57 L260.81,336.44 L261.55,336.30 L262.28,336.13 L263.02,335.94 L263.76,335.73 L264.49,335.48 L265.23,335.20 L265.97,334.88 L266.70,334.53 L267.44,334.13 L268.18,333.68 L268.91,333.19 L269.65,332.65 L270.39,332.05 L271.12,331.40 L271.86,330.68 L272.60,329.90 L273.33,329.07 L274.07,328.17 L274.81,327.20 L275.54,326.17 L276.28,325.08 L277.02,323.93 L277.75,322.72 L278.49,321.46 L279.23,320.15 L279.96,318.80 L280.70,317.41 L281.44,315.99 L282.17,314.55 L282.91,313.09 L283.65,311.64 L284.38,310.19 L285.12,308.77 L285.86,307.37 L286.60,306.02 L287.33,304.72 L288.07,303.49 L288.81,302.33 L289.54,301.26 L290.28,300.30 L291.02,299.43 L291.75,298.69 L292.49,298.07 L293.23,297.58 L293.96,297.23 L294.70,297.02 L295.44,296.94 L296.17,297.02 L296.91,297.23 L297.65,297.58 L298.38,298.07 L299.12,298.69 L299.86,299.43 L300.59,300.30 L301.33,301.26 L302.07,302.33 L302.80,303.49 L303.54,304.72 L304.28,306.02 L305.01,307.37 L305.75,308.77 L306.49,310.19 L307.22,311.64 L307.96,313.09 L308.70,314.55 L309.43,315.99 L310.17,317.41 L310.91,318.80 L311.64,320.15 L312.38,321.46 L313.12,322.72 L313.85,323.93 L314.59,325.08 L315.33,326.17 L316.07,327.20 L316.80,328.17 L317.54,329.07 L318.28,329.90 L319.01,330.68 L319.75,331.40 L320.49,332.05 L321.22,332.65 L321.96,333.19 L322.70,333.68 L323.43,334.13 L324.17,334.53 L324.91,334.88 L325.64,335.20 L326.38,335.48 L327.12,335.73 L327.85,335.94 L328.59,336.13 L329.33,336.30 L330.06,336.44 L330.80,336.57" stroke="#0000ff" stroke-width="0.9"/>
</g>
<g fill="none" stroke-linejoin="round" clip-path="url(#cb2)">
<path d="M36.10,335.69 L36.84,335.68 L37.57,335.67 L38.31,335.66 L39.05,335.65 L39.78,335.64 L40.52,335.62 L41.26,335.61 L41.99,335.60 L42.73,335.58 L43.47,335.57 L44.20,335.56 L44.94,335.54 L45.68,335.53 L46.41,335.51 L47.15,335.50 L47.89,335.48 L48.62,335.47 L49.36,335.45 L50.10,335.44 L50.83,335.42 L51.57,335.40 L52.31,335.39 L53.05,335.37 L53.78,335.35 L54.52,335.33 L55.26,335.32 L55.99,335.30 L56.73,335.28 L57.47,335.26 L58.20,335.24 L58.94,335.23 L59.68,335.21 L60.41,335.19 L61.15,335.17 L61.89,335.15 L62.62,335.13 L63.36,335.11 L64.10,335.09 L64.83,335.07 L65.57,335.04 L66.31,335.02 L67.04,335.00 L67.78,334.98 L68.52,334.96 L69.25,334.94 L69.99,334.91 L70.73,334.89 L71.46,334.87 L72.20,334.84 L72.94,334.82 L73.67,334.80 L74.41,334.77 L75.15,334.75 L75.88,334.72 L76.62,334.70 L77.36,334.67 L78.09,334.65 L78.83,334.62 L79.57,334.60 L80.31,334.57 L81.04,334.55 L81.78,334.52 L82.52,334.49 L83.25,334.46 L83.99,334.44 L84.73,334.41 L85.46,334.38 L86.20,334.35 L86.94,334.33 L87.67,334.30 L88.41,334.27 L89.15,334.24 L89.88,334.21 L90.62,334.18 L91.36,334.15 L92.09,334.12 L92.83,334.09 L93.57,334.06 L94.30,334.03 L95.04,334.00 L95.78,333.97 L96.51,333.94 L97.25,333.90 L97.99,333.87 L98.72,333.84 L99.46,333.81 L100.20,333.78 L100.93,333.74 L101.67,333.71 L102.41,333.68 L103.14,333.64 L103.88,333.61 L104.62,333.57 L105.35,333.54 L106.09,333.51 L106.83,333.47 L107.56,333.44 L108.30,333.40 L109.04,333.36 L109.78,333.33 L110.51,333.29 L111.25,333.26 L111.99,333.22 L112.72,333.18 L113.46,333.15 L114.20,333.11 L114.93,333.07 L115.67,333.03 L116.41,332.99 L117.14,332.96 L117.88,332.92 L118.62,332.88 L119.35,332.84 L120.09,332.80 L120.83,332.76 L121.56,332.72 L122.30,332.68 L123.04,332.64 L123.77,332.60 L124.51,332.56 L125.25,332.52 L125.98,332.48 L126.72,332.43 L127.46,332.39 L128.19,332.35 L128.93,332.31 L129.67,332.27 L130.40,332.22 L131.14,332.18 L131.88,332.14 L132.61,332.09 L133.35,332.05 L134.09,332.01 L134.82,331.96 L135.56,331.92 L136.30,331.87 L137.03,331.83 L137.77,331.78 L138.51,331.74 L139.25,331.69 L139.98,331.64 L140.72,331.60 L141.46,331.55 L142.19,331.50 L142.93,331.46 L143.67,331.41 L144.40,331.36 L145.14,331.32 L145.88,331.27 L146.61,331.22 L147.35,331.17 L148.09,331.12 L148.82,331.07 L149.56,331.02 L150.30,330.97 L151.03,330.92 L151.77,330.87 L152.51,330.82 L153.24,330.77 L153.98,330.72 L154.72,330.67 L155.45,330.62 L156.19,330.57 L156.93,330.52 L157.66,330.47 L158.40,330.41 L159.14,330.36 L159.87,330.31 L160.61,330.26 L161.35,330.20 L162.08,330.15 L162.82,330.10 L163.56,330.04 L164.29,329.99 L165.03,329.93 L165.77,329.88 L166.50,329.82 L167.24,329.77 L167.98,329.71 L168.71,329.66 L169.45,329.60 L170.19,329.54 L170.93,329.49 L171.66,329.43 L172.40,329.38 L173.14,329.32 L173.87,329.26 L174.61,329.20 L175.35,329.15 L176.08,329.09 L176.82,329.03 L177.56,328.97 L178.29,328.91 L179.03,328.85 L179.77,328.79 L180.50,328.73 L181.24,328.67 L181.98,328.61 L182.71,328.55 L183.45,328.49 L184.19,328.43 L184.92,328.37 L185.66,328.31 L186.40,328.25 L187.13,328.19 L187.87,328.12 L188.61,328.06 L189.34,328.00 L190.08,327.94 L190.82,327.87 L191.55,327.81 L192.29,327.75 L193.03,327.68 L193.76,327.62 L194.50,327.55 L195.24,327.49 L195.97,327.42 L196.71,327.36 L197.45,327.29 L198.19,327.23 L198.92,327.16 L199.66,327.10 L200.40,327.03 L201.13,326.96 L201.87,326.90 L202.61,326.83 L203.34,326.76 L204.08,326.70 L204.82,326.63 L205.55,326.56 L206.29,326.49 L207.03,326.42 L207.76,326.35 L208.50,326.29 L209.24,326.22 L209.97,326.15 L210.71,326.08 L211.45,326.01 L212.18,325.94 L212.92,325.87 L213.66,325.80 L214.39,325.72 L215.13,325.65 L215.87,325.58 L216.60,325.51 L217.34,325.44 L218.08,325.37 L218.81,325.29 L219.55,325.22 L220.29,325.15 L221.02,325.08 L221.76,325.00 L222.50,324.93 L223.23,324.85 L223.97,324.78 L224.71,324.71 L225.44,324.63 L226.18,324.56 L226.92,324.48 L227.65,324.41 L228.39,324.33 L229.13,324.25 L229.87,324.18 L230.60,324.10 L231.34,324.02 L232.08,323.95 L232.81,323.87 L233.55,323.79 L234.29,323.72 L235.02,323.64 L235.76,323.56 L236.50,323.48 L237.23,323.40 L237.97,323.32 L238.71,323.24 L239.44,323.17 L240.18,323.09 L240.92,323.01 L241.65,322.93 L242.39,322.85 L243.13,322.76 L243.86,322.68 L244.60,322.60 L245.34,322.52 L246.07,322.44 L246.81,322.36 L247.55,322.28 L248.28,322.19 L249.02,322.11 L249.76,322.03 L250.49,321.95 L251.23,321.86 L251.97,321.78 L252.70,321.69 L253.44,321.61 L254.18,321.53 L254.91,321.44 L255.65,321.36 L256.39,321.27 L257.12,321.19 L257.86,321.10 L258.60,321.02 L259.34,320.93 L260.07,320.84 L260.81,320.76 L261.55,320.67 L262.28,320.58 L263.02,320.50 L263.76,320.41 L264.49,320.32 L265.23,320.23 L265.97,320.14 L266.70,320.06 L267.44,319.97 L268.18,319.88 L268.91,319.79 L269.65,319.70 L270.39,319.61 L271.12,319.52 L271.86,319.43 L272.60,319.34 L273.33,319.25 L274.07,319.16 L274.81,319.07 L275.54,318.97 L276.28,318.88 L277.02,318.79 L277.75,318.70 L278.49,318.61 L279.23,318.51 L279.96,318.42 L280.70,318.33 L281.44,318.23 L282.17,318.14 L282.91,318.05 L283.65,317.95 L284.38,317.86 L285.12,317.76 L285.86,317.67 L286.60,317.57 L287.33,317.48 L288.07,317.38 L288.81,317.29 L289.54,317.19 L290.28,317.09 L291.02,317.00 L291.75,316.90 L292.49,316.80 L293.23,316.71 L293.96,316.61 L294.70,316.51 L295.44,316.41 L296.17,316.31 L296.91,316.22 L297.65,316.12 L298.38,316.02 L299.12,315.92 L299.86,315.82 L300.59,315.72 L301.33,315.62 L302.07,315.52 L302.80,315.42 L303.54,315.32 L304.28,315.22 L305.01,315.11 L305.75,315.01 L306.49,314.91 L307.22,314.81 L307.96,314.71 L308.70,314.60 L309.43,314.50 L310.17,314.40 L310.91,314.29 L311.64,314.19 L312.38,314.09 L313.12,313.98 L313.85,313.88 L314.59,313.77 L315.33,313.67 L316.07,313.56 L316.80,313.46 L317.54,313.35 L318.28,313.25 L319.01,313.14 L319.75,313.04 L320.49,312.93 L321.22,312.82 L321.96,312.72 L322.70,312.61 L323.43,312.50 L324.17,312.39 L324.91,312.28 L325.64,312.18 L326.38,312.07 L327.12,311.96 L327.85,311.85 L328.59,311.74 L329.33,311.63 L330.06,311.52 L330.80,311.41" stroke="#00ffff" stroke-width="0.9"/>
<path d="M36.10,335.69 L36.84,335.68 L37.57,335.67 L38.31,335.66 L39.05,335.65 L39.78,335.64 L40.52,335.62 L41.26,335.61 L41.99,335.60 L42.73,335.58 L43.47,335.57 L44.20,335.56 L44.94,335.54 L45.68,335.53 L46.41,335.51 L47.15,335.50 L47.89,335.48 L48.62,335.47 L49.36,335.45 L50.10,335.44 L50.83,335.42 L51.57,335.40 L52.31,335.39 L53.05,335.37 L53.78,335.35 L54.52,335.33 L55.26,335.32 L55.99,335.30 L56.73,335.28 L57.47,335.26 L58.20,335.24 L58.94,335.23 L59.68,335.21 L60.41,335.19 L61.15,335.17 L61.89,335.15 L62.62,335.13 L63.36,335.11 L64.10,335.09 L64.83,335.07 L65.57,335.04 L66.31,335.02 L67.04,335.00 L67.78,334.98 L68.52,334.96 L69.25,334.94 L69.99,334.91 L70.73,334.89 L71.46,334.87 L72.20,334.84 L72.94,334.82 L73.67,334.80 L74.41,334.77 L75.15,334.75 L75.88,334.72 L76.62,334.70 L77.36,334.67 L78.09,334.65 L78.83,334.62 L79.57,334.60 L80.31,334.57 L81.04,334.55 L81.78,334.52 L82.52,334.49 L83.25,334.46 L83.99,334.44 L84.73,334.41 L85.46,334.38 L86.20,334.35 L86.94,334.33 L87.67,334.30 L88.41,334.27 L89.15,334.24 L89.88,334.21 L90.62,334.18 L91.36,334.15 L92.09,334.12 L92.83,334.09 L93.57,334.06 L94.30,334.03 L95.04,334.00 L95.78,333.97 L96.51,333.94 L97.25,333.90 L97.99,333.87 L98.72,333.84 L99.46,333.81 L100.20,333.78 L100.93,333.74 L101.67,333.71 L102.41,333.68 L103.14,333.64 L103.88,333.61 L104.62,333.57 L105.35,333.54 L106.09,333.51 L106.83,333.47 L107.56,333.44 L108.30,333.40 L109.04,333.36 L109.78,333.33 L110.51,333.29 L111.25,333.26 L111.99,333.22 L112.72,333.18 L113.46,333.15 L114.20,333.11 L114.93,333.07 L115.67,333.03 L116.41,332.99 L117.14,332.96 L117.88,332.92 L118.62,332.88 L119.35,332.84 L120.09,332.80 L120.83,332.76 L121.56,332.72 L122.30,332.68 L123.04,332.64 L123.77,332.60 L124.51,332.56 L125.25,332.52 L125.98,332.48 L126.72,332.43 L127.46,332.39 L128.19,332.35 L128.93,332.31 L129.67,332.26 L130.40,332.22 L131.14,332.18 L131.88,332.14 L132.61,332.09 L133.35,332.05 L134.09,332.00 L134.82,331.96 L135.56,331.91 L136.30,331.87 L137.03,331.82 L137.77,331.78 L138.51,331.73 L139.25,331.69 L139.98,331.64 L140.72,331.59 L141.46,331.55 L142.19,331.50 L142.93,331.45 L143.67,331.40 L144.40,331.35 L145.14,331.31 L145.88,331.26 L146.61,331.21 L147.35,331.16 L148.09,331.11 L148.82,331.06 L149.56,331.01 L150.30,330.96 L151.03,330.91 L151.77,330.85 L152.51,330.80 L153.24,330.75 L153.98,330.70 L154.72,330.64 L155.45,330.59 L156.19,330.54 L156.93,330.48 L157.66,330.43 L158.40,330.37 L159.14,330.32 L159.87,330.26 L160.61,330.20 L161.35,330.14 L162.08,330.09 L162.82,330.03 L163.56,329.97 L164.29,329.91 L165.03,329.85 L165.77,329.78 L166.50,329.72 L167.24,329.66 L167.98,329.59 L168.71,329.53 L169.45,329.46 L170.19,329.39 L170.93,329.32 L171.66,329.25 L172.40,329.18" stroke="#2aa8a8" stroke-width="1.35"/>
</g>
<line x1="50.6" x2="79.6" y1="49.0" y2="49.0" stroke="#ff0000" stroke-width="0.92"/>
<line x1="50.6" x2="79.6" y1="64.6" y2="64.6" stroke="#0000ff" stroke-width="0.72"/>
</svg>
<div class="t" style="left:52.5px;top:13.5px;">T=100 K</div>
<div class="t" style="left:82.9px;top:42.699999999999996px;">MH excitations</div>
<div class="t" style="left:82.9px;top:58.3px;">CT excitations</div>
<div class="t" style="left:47px;top:143px;">a axis</div>
<div class="t" style="left:51px;top:311px;">c axis</div>
<div class="t" style="left:128px;top:362.6px;font-size:12.85px;">photon energy (eV)</div>
<div class="t" style="left:130.3px;top:124.9px;color:#ff0000;font-size:10.8px;transform:scaleY(1.07);">MH1</div>
<div class="t" style="left:130.3px;top:138.3px;color:#ff0000;font-size:10.8px;transform:scaleY(1.07);">2.96</div>
<div class="t" style="left:169px;top:109px;color:#ff0000;font-size:10.8px;transform:scaleY(1.07);">MH2</div>
<div class="t" style="left:169px;top:122.6px;color:#ff0000;font-size:10.8px;transform:scaleY(1.07);">3.81</div>
<div class="t" style="left:216px;top:133.6px;font-size:11.3px;">4.00</div>
<div class="t" style="left:255px;top:115.6px;font-size:11.3px;">4.64</div>
<div class="t" style="left:256px;top:45.6px;font-size:11.3px;">4.68</div>
<div class="t" style="left:210.4px;top:303.6px;font-size:11.3px;">4.03</div>
<div class="t" style="left:274px;top:223.6px;font-size:11.3px;">4.88</div>
<div class="t" style="left:281.7px;top:282.6px;font-size:11.3px;">5.02</div>
<div class="t" style="left:24.0px;top:6.3px;font-size:13.5px;">5</div>
<div class="t" style="left:24.0px;top:174.3px;font-size:13.5px;">5</div>
<div class="t" style="left:24.0px;top:37.4px;font-size:13.5px;">4</div>
<div class="t" style="left:24.0px;top:205.4px;font-size:13.5px;">4</div>
<div class="t" style="left:24.0px;top:68.5px;font-size:13.5px;">3</div>
<div class="t" style="left:24.0px;top:236.5px;font-size:13.5px;">3</div>
<div class="t" style="left:24.0px;top:99.6px;font-size:13.5px;">2</div>
<div class="t" style="left:24.0px;top:267.6px;font-size:13.5px;">2</div>
<div class="t" style="left:24.0px;top:130.7px;font-size:13.5px;">1</div>
<div class="t" style="left:24.0px;top:298.7px;font-size:13.5px;">1</div>
<div class="t" style="left:24.0px;top:161.8px;font-size:13.5px;">0</div>
<div class="t" style="left:24.0px;top:329.8px;font-size:13.5px;">0</div>
<div class="t" style="left:68.8px;top:341.0px;font-size:13.5px;">2</div>
<div class="t" style="left:142.4px;top:341.0px;font-size:13.5px;">3</div>
<div class="t" style="left:216.1px;top:341.0px;font-size:13.5px;">4</div>
<div class="t" style="left:289.7px;top:341.0px;font-size:13.5px;">5</div>
<div class="t" style="left:-3.3px;top:96.85px;font-size:15px;transform:rotate(-90deg) scaleX(1.35);">ε</div>
<div class="t" style="left:7.7px;top:90.1px;font-size:10px;transform:rotate(-90deg) scaleX(1.05);">2</div>
<div class="t" style="left:-1.9px;top:264.6px;font-size:15px;transform:rotate(-90deg) scaleX(1.35);">ε</div>
<div class="t" style="left:8.5px;top:258.05px;font-size:9.5px;transform:rotate(-90deg) scaleX(0.95);">2</div>
</div></body></html>
